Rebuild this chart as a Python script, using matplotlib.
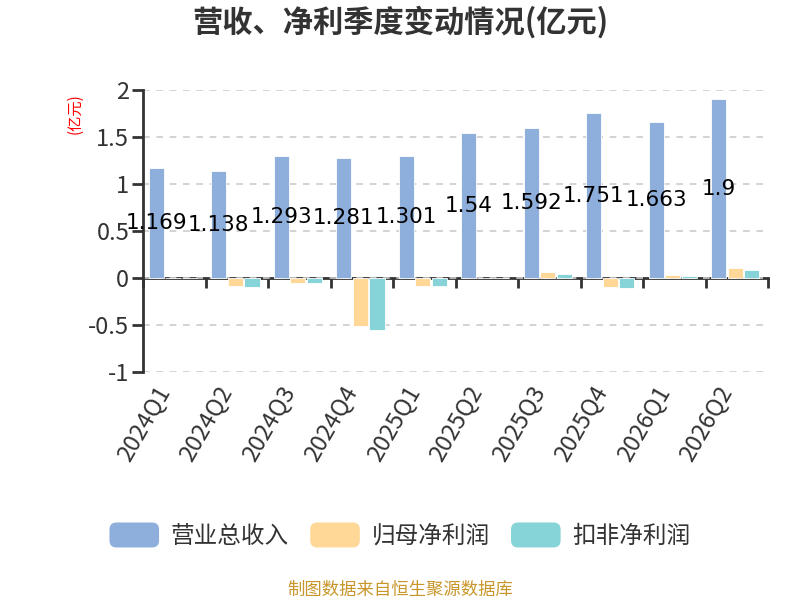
import matplotlib
matplotlib.use("Agg")
import matplotlib.pyplot as plt
from matplotlib.patches import FancyBboxPatch, Rectangle
from matplotlib.legend_handler import HandlerPatch
import numpy as np

plt.rcParams['font.family'] = ['Noto Sans CJK SC', 'DejaVu Sans']
plt.rcParams['axes.unicode_minus'] = False

categories = ['2024Q1', '2024Q2', '2024Q3', '2024Q4', '2025Q1',
              '2025Q2', '2025Q3', '2025Q4', '2026Q1', '2026Q2']
revenue = [1.169, 1.138, 1.293, 1.281, 1.301, 1.54, 1.592, 1.751, 1.663, 1.9]
net_profit = [0.005, -0.09, -0.05, -0.51, -0.08, 0.005, 0.065, -0.1, 0.03, 0.11]
deducted_profit = [-0.005, -0.1, -0.055, -0.55, -0.09, -0.005, 0.04, -0.11, 0.025, 0.09]
revenue_labels = ['1.169', '1.138', '1.293', '1.281', '1.301',
                  '1.54', '1.592', '1.751', '1.663', '1.9']
series_names = ['营业总收入', '归母净利润', '扣非净利润']
colors = ['#8eaedb', '#ffd898', '#86d4d8']
y_ticks = [-1, -0.5, 0, 0.5, 1, 1.5, 2]
y_tick_labels = ['-1', '-0.5', '0', '0.5', '1', '1.5', '2']

fig = plt.figure(figsize=(8, 6), dpi=100)
ax = fig.add_axes([0.179, 0.38, 0.781, 0.47])

x = np.arange(len(categories))
w = 0.245
offsets = [-0.29, -0.025, 0.24]
for vals, off, c, name in zip([revenue, net_profit, deducted_profit], offsets, colors, series_names):
    ax.bar(x + off, vals, width=w, color=c, label=name, zorder=3,
           edgecolor='white', linewidth=0.6)

for xi, v, lab in zip(x, revenue, revenue_labels):
    ax.text(xi + offsets[0], v / 2, lab, ha='center', va='center',
            fontsize=15.5, color='black', zorder=5, family=['DejaVu Sans'])

ax.set_xlim(-0.5, len(categories) - 0.5)
ax.set_ylim(-1, 2)
ax.set_yticks(y_ticks)
ax.set_yticklabels(y_tick_labels)
ax.tick_params(axis='y', labelsize=17, length=8, width=2, color='#333333',
               labelcolor='#333333', pad=2)
ax.yaxis.grid(True, linestyle=(0, (4, 4)), color='#cccccc', linewidth=1.2, zorder=0)
ax.set_axisbelow(True)

for s in ['top', 'right', 'bottom']:
    ax.spines[s].set_visible(False)
ax.spines['left'].set_color('#333333')
ax.spines['left'].set_linewidth(2)

# category labels at bottom
ax.set_xticks(x)
ax.set_xticklabels(categories, rotation=60, ha='right', rotation_mode='default')
ax.tick_params(axis='x', length=0, labelsize=17, labelcolor='#333333', pad=7)

# zero axis line with boundary ticks
sec = ax.secondary_xaxis(1/3)
sec.set_xticks(np.arange(len(categories) + 1) - 0.5)
sec.set_xticklabels([])
sec.tick_params(axis='x', direction='out', length=7, width=2, color='#333333')
sec.spines['bottom'].set_color('#333333')
sec.spines['bottom'].set_linewidth(2)
sec.spines['top'].set_visible(False)
sec.xaxis.set_ticks_position('bottom')

fig.text(0.094, 0.81, '(亿元)', rotation=90, color='red', fontsize=11,
         ha='center', va='center')

fig.text(0.5, 0.962, '营收、净利季度变动情况(亿元)', ha='center', va='center',
         fontsize=21.8, fontweight='bold', color='#333333')


class RoundHandler(HandlerPatch):
    def create_artists(self, legend, orig_handle, xdescent, ydescent,
                       width, height, fontsize, trans):
        p = FancyBboxPatch((-xdescent, -ydescent), width, height,
                           boxstyle='round,pad=0,rounding_size=5',
                           facecolor=orig_handle.get_facecolor(),
                           edgecolor='none', transform=trans)
        return [p]


proxy = [Rectangle((0, 0), 1, 1, facecolor=c) for c in colors]
fig.legend(proxy, series_names, loc='center', bbox_to_anchor=(0.5, 0.108),
           ncol=3, frameon=False, fontsize=17, handlelength=2.1,
           handleheight=1.25, handletextpad=0.5, columnspacing=0.9,
           labelcolor='#333333',
           handler_map={Rectangle: RoundHandler()})

fig.text(0.5, 0.017, '制图数据来自恒生聚源数据库', ha='center', va='center',
         fontsize=12.5, color='#c8962a')

fig.savefig('out.png', dpi=100)
